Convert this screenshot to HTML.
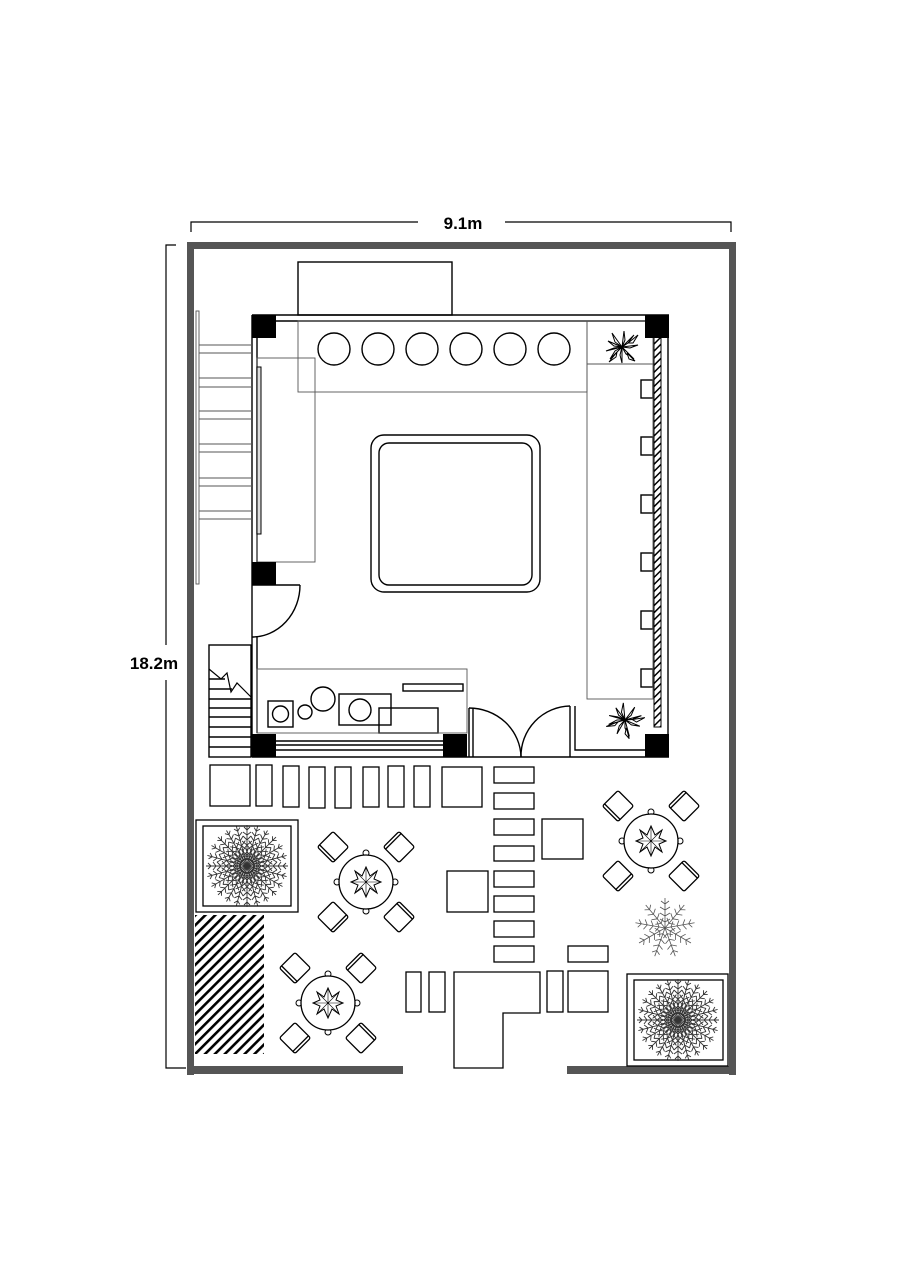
<!DOCTYPE html>
<html><head><meta charset="utf-8"><style>
html,body{margin:0;padding:0;background:#fff;}
svg{display:block}
</style></head><body>
<svg width="904" height="1280" viewBox="0 0 904 1280" xmlns="http://www.w3.org/2000/svg">
<defs>
<g id="spoke" stroke="#333" stroke-width="0.9" fill="none">
<path d="M0 0 L0 -41 M0 -6 l-4 -4 M0 -6 l4 -4 M0 -11 l-5 -4 M0 -11 l5 -4 M0 -16 l-5 -4 M0 -16 l5 -4 M0 -21 l-5 -4 M0 -21 l5 -4 M0 -26 l-4 -4 M0 -26 l4 -4 M0 -31 l-4 -3 M0 -31 l4 -3 M0 -36 l-3 -3 M0 -36 l3 -3"/>
</g>
<g id="palm8">
<use href="#spoke"/><use href="#spoke" transform="rotate(45)"/><use href="#spoke" transform="rotate(90)"/><use href="#spoke" transform="rotate(135)"/><use href="#spoke" transform="rotate(180)"/><use href="#spoke" transform="rotate(225)"/><use href="#spoke" transform="rotate(270)"/><use href="#spoke" transform="rotate(315)"/>
</g>
<g id="palm">
<use href="#palm8"/><use href="#palm8" transform="rotate(15)"/><use href="#palm8" transform="rotate(30)"/>
</g>
<g id="spoke2" stroke="#555" stroke-width="0.8" fill="none">
<path d="M0 0 L0 -30 M0 -6 l-5 -3 M0 -6 l5 -3 M0 -12 l-5 -3 M0 -12 l5 -3 M0 -18 l-5 -3 M0 -18 l5 -3 M0 -24 l-4 -3 M0 -24 l4 -3"/>
</g>
<g id="bush">
<use href="#spoke2"/><use href="#spoke2" transform="rotate(40)"/><use href="#spoke2" transform="rotate(80)"/><use href="#spoke2" transform="rotate(120)"/><use href="#spoke2" transform="rotate(160)"/><use href="#spoke2" transform="rotate(200)"/><use href="#spoke2" transform="rotate(240)"/><use href="#spoke2" transform="rotate(280)"/><use href="#spoke2" transform="rotate(320)"/>
</g>
<g id="star" fill="#fff" stroke="#000" stroke-width="1">
<polygon points="0,-15 4,-6 11,-11 8,-3 15,0 8,3 11,11 4,6 0,15 -4,6 -11,11 -8,3 -15,0 -8,-3 -11,-11 -4,-6"/>
<path d="M0 -15 L0 15 M-15 0 L15 0 M-11 -11 L11 11 M11 -11 L-11 11" stroke-width="0.6"/>
</g>
<g id="chair" fill="#fff" stroke="#000" stroke-width="1.3">
<rect x="-11" y="-11" width="22" height="22" rx="2"/>
<line x1="-11" y1="8" x2="11" y2="8"/>
</g>
<g id="table">
<use href="#chair" transform="translate(-33,-35) rotate(45)"/>
<use href="#chair" transform="translate(33,-35) rotate(135)"/>
<use href="#chair" transform="translate(-33,35) rotate(-45)"/>
<use href="#chair" transform="translate(33,35) rotate(-135)"/>
<circle r="3" cy="-29" fill="#fff" stroke="#000"/><circle r="3" cy="29" fill="#fff" stroke="#000"/>
<circle r="3" cx="-29" fill="#fff" stroke="#000"/><circle r="3" cx="29" fill="#fff" stroke="#000"/>
<circle r="27" fill="#fff" stroke="#000" stroke-width="1.3"/>
<use href="#star"/>
</g>
<g id="leafy" stroke="#000" stroke-width="1" fill="#fff">
<path d="M0 0 l-14 -6 l6 5 z M0 0 l-10 -14 l3 9 z M0 0 l2 -16 l1 9 z M0 0 l12 -12 l-6 8 z M0 0 l16 -2 l-8 3 z M0 0 l12 12 l-8 -5 z M0 0 l0 16 l-2 -8 z M0 0 l-12 12 l5 -8 z M0 0 l-16 4 l8 -3 z"/>
<path d="M6 -4 l10 -8 l-5 8 z M-5 5 l-8 10 l7 -5 z M5 6 l8 8 l-6 -2 z" />
</g>
<pattern id="hatch" width="7" height="7" patternUnits="userSpaceOnUse" patternTransform="rotate(45)">
<rect width="2.6" height="7" fill="#000"/>
</pattern>
<pattern id="whatch" width="6" height="5" patternUnits="userSpaceOnUse" patternTransform="rotate(-45)">
<rect width="6" height="1.5" fill="#000"/>
</pattern>
</defs>

<g stroke="#000" stroke-width="1.2" fill="none">
<path d="M191 232 V222 H418 M505 222 H731 V232"/>
<path d="M176 245 H166 V645 M166 680 V1068 H186"/>
</g>
<text x="463" y="229" font-family="Liberation Sans, sans-serif" font-size="17" font-weight="bold" text-anchor="middle">9.1m</text>
<text x="154" y="669" font-family="Liberation Sans, sans-serif" font-size="17" font-weight="bold" text-anchor="middle">18.2m</text>

<g fill="#555">
<rect x="187" y="242" width="549" height="7"/>
<rect x="187" y="242" width="7" height="833"/>
<rect x="729" y="242" width="7" height="833"/>
<rect x="187" y="1066" width="216" height="8"/>
<rect x="567" y="1066" width="169" height="8"/>
</g>

<g fill="none" stroke="#000" stroke-width="1.4">
<rect x="298" y="262" width="154" height="53"/>
<line x1="252" y1="315" x2="669" y2="315"/>
<line x1="252" y1="321" x2="645" y2="321"/>
<line x1="668" y1="338" x2="668" y2="735"/>
<line x1="252" y1="315" x2="252" y2="757"/>
<line x1="257" y1="338" x2="257" y2="563"/>
<line x1="257" y1="637" x2="257" y2="733"/>
<circle cx="334" cy="349" r="16"/><circle cx="378" cy="349" r="16"/><circle cx="422" cy="349" r="16"/>
<circle cx="466" cy="349" r="16"/><circle cx="510" cy="349" r="16"/><circle cx="554" cy="349" r="16"/>
<rect x="371" y="435" width="169" height="157" rx="13"/>
<rect x="379" y="443" width="153" height="142" rx="10"/>
<line x1="252" y1="585" x2="300" y2="585"/>
<path d="M300 585 A48 52 0 0 1 252 637"/>
<rect x="209" y="645" width="42" height="112"/>
<path d="M209 669 L221 679 L227 673 L231 692 L237 683 L251 697" stroke-width="1.2"/>
<path d="M209 679 H225 M209 689 H232 M209 699 H251 M209 708 H251 M209 717 H251 M209 727 H251 M209 737 H251 M209 747 H251"/>
<rect x="268" y="701" width="25" height="26"/><circle cx="280.5" cy="714" r="8"/>
<circle cx="305" cy="712" r="7"/><circle cx="323" cy="699" r="12"/>
<rect x="339" y="694" width="52" height="31"/><circle cx="360" cy="710" r="11"/>
<rect x="379" y="708" width="59" height="25"/>
<rect x="403" y="684" width="60" height="7"/>
<path d="M276 741 H443 M276 745 H443 M276 750 H443 M252 757 H669"/>
<path d="M469 708 V757 M473 708 V757 M570 706 V757 M575 706 V750 H645"/>
<path d="M469 708 A52 50 0 0 1 521 757"/>
<path d="M570 706 A50 50 0 0 0 521 757"/>
<rect x="641" y="380" width="12" height="18"/><rect x="641" y="437" width="12" height="18"/>
<rect x="641" y="495" width="12" height="18"/><rect x="641" y="553" width="12" height="18"/>
<rect x="641" y="611" width="12" height="18"/><rect x="641" y="669" width="12" height="18"/>
</g>
<rect x="654" y="336" width="7" height="391" fill="url(#whatch)" stroke="#000" stroke-width="1"/>

<g fill="none" stroke="#555" stroke-width="0.9">
<rect x="298" y="321" width="289" height="71"/>
<rect x="587" y="321" width="66" height="43"/>
<rect x="587" y="364" width="66" height="335"/>
<rect x="257" y="358" width="58" height="204"/>
<rect x="257" y="669" width="210" height="64"/>
<rect x="196" y="311" width="3" height="273"/>
<path d="M199 345 H252 M199 353 H252 M199 378 H252 M199 387 H252 M199 411 H252 M199 419 H252 M199 444 H252 M199 452 H252 M199 478 H252 M199 486 H252 M199 511 H252 M199 519 H252"/>
</g>
<rect x="257" y="367" width="4" height="167" fill="#ddd" stroke="#000" stroke-width="1"/>

<g fill="#000">
<rect x="252" y="315" width="24" height="23"/><rect x="645" y="315" width="24" height="23"/>
<rect x="252" y="562" width="24" height="23"/>
<rect x="252" y="734" width="24" height="23"/><rect x="443" y="734" width="24" height="23"/><rect x="645" y="734" width="24" height="23"/>
</g>
<use href="#leafy" transform="translate(622,347)"/>
<use href="#leafy" transform="translate(625,720) rotate(30)"/>

<g fill="#fff" stroke="#000" stroke-width="1.3">
<rect x="210" y="765" width="40" height="41"/>
<rect x="256" y="765" width="16" height="41"/>
<rect x="283" y="766" width="16" height="41"/>
<rect x="309" y="767" width="16" height="41"/>
<rect x="335" y="767" width="16" height="41"/>
<rect x="363" y="767" width="16" height="40"/>
<rect x="388" y="766" width="16" height="41"/>
<rect x="414" y="766" width="16" height="41"/>
<rect x="442" y="767" width="40" height="40"/>
<rect x="494" y="767" width="40" height="16"/>
<rect x="494" y="793" width="40" height="16"/>
<rect x="494" y="819" width="40" height="16"/>
<rect x="494" y="846" width="40" height="15"/>
<rect x="494" y="871" width="40" height="16"/>
<rect x="494" y="896" width="40" height="16"/>
<rect x="494" y="921" width="40" height="16"/>
<rect x="494" y="946" width="40" height="16"/>
<rect x="542" y="819" width="41" height="40"/>
<rect x="447" y="871" width="41" height="41"/>
<rect x="568" y="946" width="40" height="16"/>
<rect x="406" y="972" width="15" height="40"/>
<rect x="429" y="972" width="16" height="40"/>
<path d="M454 972 H540 V1013 H503 V1068 H454 Z"/>
<rect x="547" y="971" width="16" height="41"/>
<rect x="568" y="971" width="40" height="41"/>
<rect x="196" y="820" width="102" height="92"/>
<rect x="203" y="826" width="88" height="80"/>
<rect x="627" y="974" width="101" height="92"/>
<rect x="634" y="980" width="89" height="80"/>
</g>
<use href="#palm" transform="translate(247,866)"/>
<use href="#palm" transform="translate(678,1020)"/>
<use href="#bush" transform="translate(665,928)"/>
<rect x="195" y="915" width="69" height="139" fill="url(#hatch)"/>

<use href="#table" transform="translate(366,882)"/>
<use href="#table" transform="translate(328,1003)"/>
<use href="#table" transform="translate(651,841)"/>
</svg>
</body></html>
